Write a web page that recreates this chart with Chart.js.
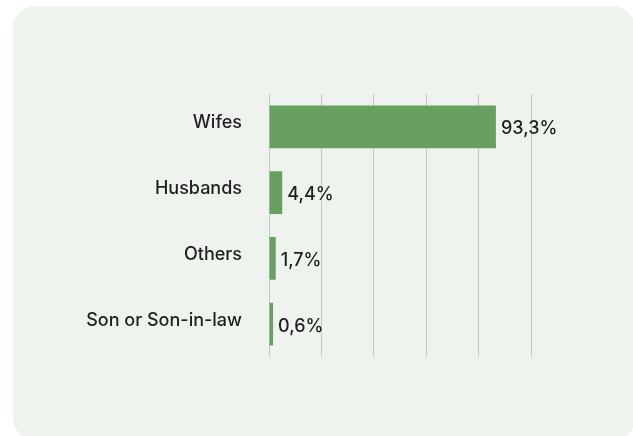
<!DOCTYPE html>
<html>
<head>
<meta charset="utf-8">
<script src="https://cdn.jsdelivr.net/npm/chart.js@4/dist/chart.umd.min.js"></script>
<style>
  html, body { margin: 0; padding: 0; background: #ffffff; }
  body { width: 633px; height: 436px; position: relative; overflow: hidden; }
  .tarjeta {
    position: absolute; left: 13px; top: 6px; width: 622px; height: 434px;
    background: #eff3ee; border-radius: 22px;
  }
  .lienzo { position: absolute; left: 0; top: 0; width: 633px; height: 436px; }
</style>
</head>
<body>
<div class="tarjeta"></div>
<div class="lienzo"><canvas id="graficoRelacion" width="633" height="436"></canvas></div>
<script>
// categorías y porcentajes
const categorias = ['Wifes', 'Husbands', 'Others', 'Son or Son-in-law'];
const porcentajes = [93.3, 4.4, 1.7, 0.6];

// rango del eje de valores y número de líneas de rejilla
const ejeMin = -1.1;
const ejeMax = 107.9;
const divisiones = 5;

const fuente = "Inter, 'DejaVu Sans', sans-serif";

// etiqueta de valor a la derecha de cada barra
const etiquetasValor = {
    id: 'etiquetasValor',
    afterDatasetsDraw(chart) {
        const ctx = chart.ctx;
        const meta = chart.getDatasetMeta(0);
        ctx.save();
        ctx.font = `500 18px ${fuente}`;
        ctx.fillStyle = '#1f1f1f';
        ctx.textAlign = 'left';
        ctx.textBaseline = 'middle';
        meta.data.forEach((barra, i) => {
            const texto = porcentajes[i].toFixed(1).replace('.', ',') + '%';
            ctx.fillText(texto, barra.x + 5, barra.y + 2);
        });
        ctx.restore();
    }
};

const ctx = document.getElementById('graficoRelacion').getContext('2d');
new Chart(ctx, {
    type: 'bar',
    data: {
        labels: categorias,
        datasets: [{
            data: porcentajes,
            base: ejeMin,
            backgroundColor: '#68a062',
            borderWidth: 0,
            categoryPercentage: 0.65,
            barPercentage: 1
        }]
    },
    options: {
        indexAxis: 'y',
        responsive: false,
        animation: false,
        layout: {
            padding: { top: 94, bottom: 79, right: 102, left: 0 }
        },
        scales: {
            x: {
                min: ejeMin,
                max: ejeMax,
                afterBuildTicks: (scale) => {
                    const paso = (ejeMax - ejeMin) / divisiones;
                    scale.ticks = Array.from({ length: divisiones + 1 }, (_, i) => ({ value: ejeMin + i * paso }));
                },
                ticks: { display: false },
                border: { display: false },
                grid: { color: '#c8c8c8', lineWidth: 1, drawTicks: false }
            },
            y: {
                afterFit: (scale) => { scale.width = 269; },
                border: { display: false },
                grid: { display: false, drawTicks: false },
                ticks: {
                    padding: 27,
                    labelOffset: -4,
                    color: '#1f1f1f',
                    font: { family: fuente, size: 18, weight: '500' }
                }
            }
        },
        plugins: {
            legend: { display: false },
            title: { display: false },
            tooltip: { enabled: false }
        }
    },
    plugins: [etiquetasValor]
});
</script>
</body>
</html>
